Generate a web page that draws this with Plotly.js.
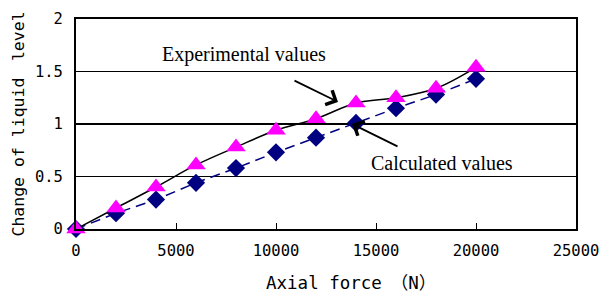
<!DOCTYPE html>
<html><head><meta charset="utf-8">
<script src="https://cdn.plot.ly/plotly-3.0.1.min.js"></script>
<style>body{margin:0;background:#fff}#c{width:608px;height:295px}</style>
</head><body><div id="c"></div>
<script>
const force = [0, 2000, 4000, 6000, 8000, 10000, 12000, 14000, 16000, 18000, 20000];
const experimental = [0, 0.2, 0.4, 0.61, 0.78, 0.94, 1.05, 1.2, 1.25, 1.34, 1.54];
const calculated = [0, 0.15, 0.28, 0.44, 0.58, 0.73, 0.87, 1.01, 1.15, 1.28, 1.43];
const xTicks = [0, 5000, 10000, 15000, 20000, 25000];
const yTicks = [0, 0.5, 1, 1.5, 2];
const xTitle = 'Axial force\u3000\uff08N\uff09';
const yTitle = 'Change of liquid\u3000level';

const mono = 'DejaVu Sans Mono, Liberation Mono, Noto Sans CJK JP, monospace';
const serif = 'Liberation Serif, Times New Roman, serif';

const traces = [
  {x: force, y: calculated, mode: 'lines+markers', cliponaxis: false,
   line: {color: '#000080', width: 1.5, dash: '10px,6px'},
   marker: {symbol: 'diamond', size: 14, color: '#000080'}},
  {x: force, y: experimental, mode: 'lines', cliponaxis: false,
   line: {color: '#000', width: 1.5, shape: 'spline', smoothing: 1}},
  {x: force, y: experimental, mode: 'markers', cliponaxis: false,
   marker: {symbol: 'triangle-up', size: 17, color: '#ff00ff'}}
];

const layout = {
  width: 608, height: 295, showlegend: false,
  margin: {l: 76, r: 32, t: 19, b: 66},
  paper_bgcolor: '#fff', plot_bgcolor: '#fff',
  xaxis: {range: [0, 25000], tickvals: xTicks, ticktext: xTicks.map(String),
    showgrid: false, zeroline: false, showline: true, mirror: true,
    linecolor: '#000', linewidth: 2, ticks: 'inside', ticklen: 6, tickcolor: '#000',
    ticklabelstandoff: 6,
    tickfont: {family: mono, size: 15.5, color: '#000'}},
  yaxis: {range: [0, 2], tickvals: yTicks, ticktext: ['0', '0.5', '1', '1.5', '2'],
    showgrid: true, gridcolor: '#000', gridwidth: 1.5, zeroline: false,
    showline: true, mirror: true, linecolor: '#000', linewidth: 2, ticks: '',
    ticklabelstandoff: 8,
    tickfont: {family: mono, size: 15.5, color: '#000'},
    title: {text: yTitle, font: {family: mono, size: 16.5, color: '#000'}, standoff: 6}},
  annotations: [
    {x: 0.55, y: -0.257, xref: 'paper', yref: 'paper', xanchor: 'center', yanchor: 'middle',
     text: xTitle, showarrow: false, font: {family: mono, size: 17.5, color: '#000'}},
    {x: 8400, y: 1.66, xref: 'x', yref: 'y', text: 'Experimental values', showarrow: false,
     font: {family: serif, size: 20, color: '#000'}},
    {x: 18300, y: 0.63, xref: 'x', yref: 'y', text: 'Calculated values', showarrow: false,
     font: {family: serif, size: 20, color: '#000'}},
    {x: 13100, y: 1.21, ax: 10850, ay: 1.42, xref: 'x', yref: 'y', axref: 'x', ayref: 'y',
     text: '', showarrow: true, arrowhead: 4, arrowsize: 1.7, arrowwidth: 1.8, arrowcolor: '#000'},
    {x: 13800, y: 1.0, ax: 16150, ay: 0.78, xref: 'x', yref: 'y', axref: 'x', ayref: 'y',
     text: '', showarrow: true, arrowhead: 4, arrowsize: 1.7, arrowwidth: 1.8, arrowcolor: '#000'}
  ]
};
Plotly.newPlot('c', traces, layout, {staticPlot: true, displayModeBar: false});
</script></body></html>
